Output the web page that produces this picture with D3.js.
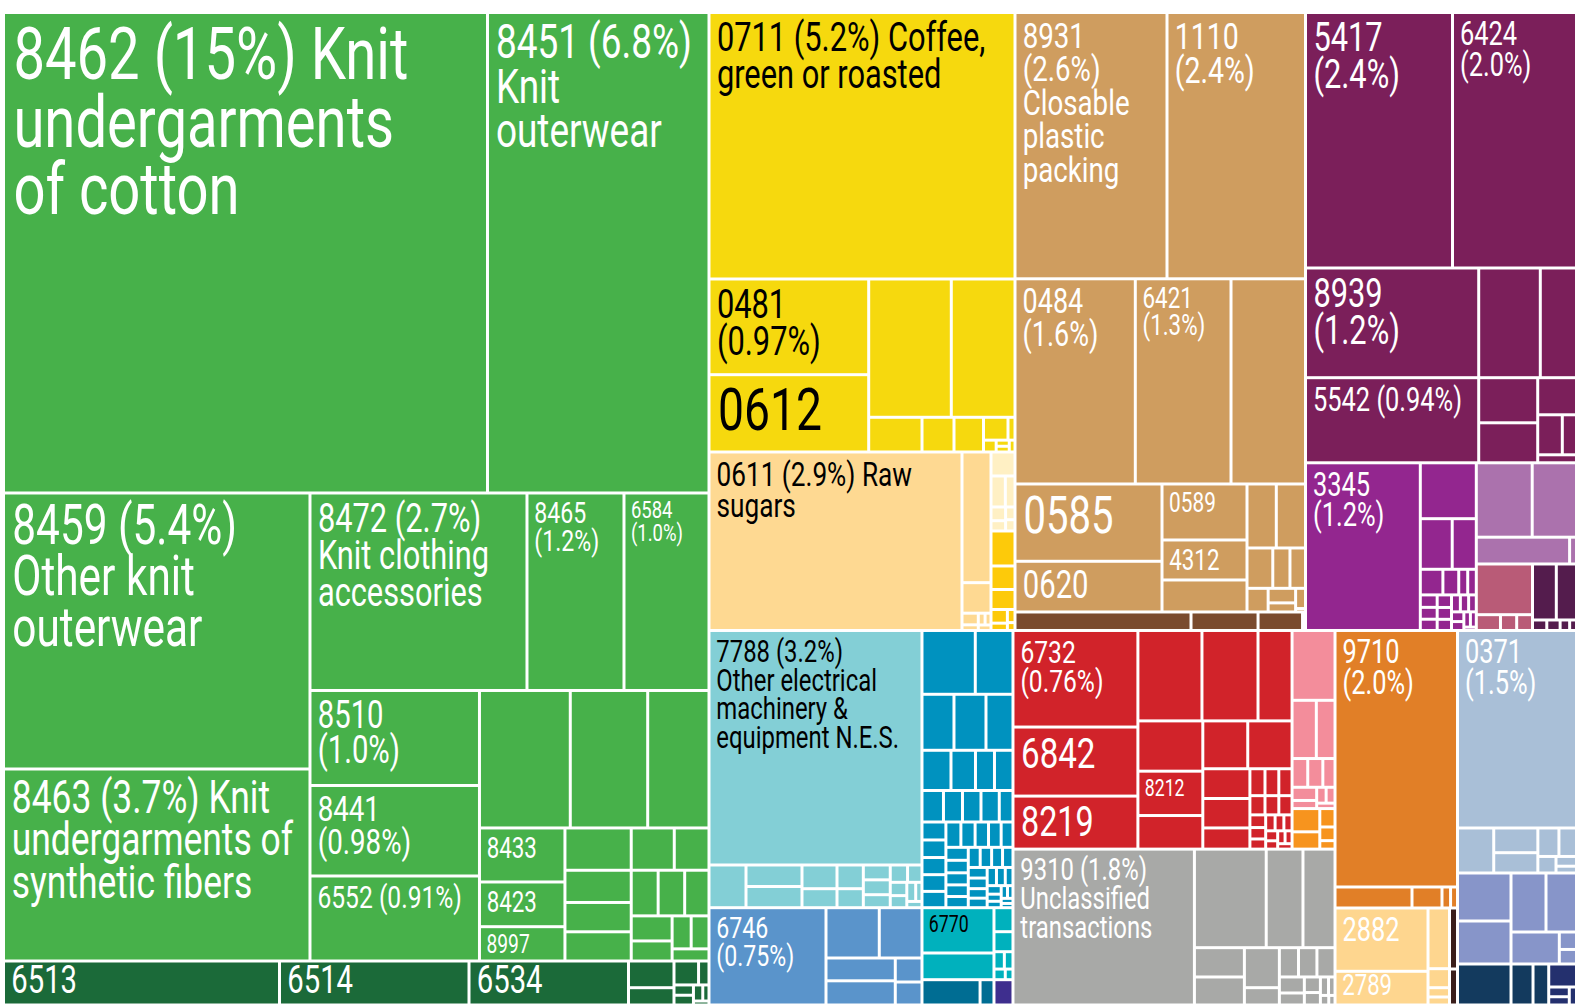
<!DOCTYPE html>
<html><head><meta charset="utf-8">
<script src="https://cdn.jsdelivr.net/npm/d3@7"></script>
<style>
body{margin:0;background:#fff;}
svg{display:block;}
text{font-family:Roboto,"Liberation Sans",sans-serif;font-weight:400;}
</style>
</head><body>
<svg id="chart" width="1575" height="1004"></svg>
<script>
// ---- Export values (proportional units), grouped by product community ----
const garments = [["8462",232562],["8451",106431],["8459",84594],["8463",58848],["8472",42858],["8465",19158],["6584",16788],["8510",16103],["8441",15340],["6552",14408],["",12485],["",10643],["",8429],["8433",4617],["8423",3822],["8997",2933],["",2804],["",2135],["",1943],["",1936],["",1819],["",1468],["",1229],["",1211],["",1110],["",1025],["",820],["",629],["",588],["",448]];
const textileYarn = [["6513",12144],["6514",8338],["6534",7018],["",1215],["",787],["",588],["",250],["",200],["",190],["",150],["",100],["",62]];
const coffeeTea = [["0711",81549],["0481",15283],["0612",12345],["",11424],["",8810],["",1850],["",1110],["",1024],["",560],["",160],["",150],["",80],["",75],["",68]];
const sugar = [["0611",45160],["",3790],["",885],["",190],["",92],["",80],["",70],["",70]];
const cream = [["",576],["",444],["",300],["",200],["",150],["",120],["",106]];
const goldG = [["",840],["",564],["",480],["",224],["",120],["",100],["",60]];
const foodstuffs = [["8931",40478],["1110",36883],["0484",24686],["6421",19638],["",15287],["0585",11363],["0620",7453],["0589",4760],["4312",3400],["",2720],["",1875],["",1869],["",1040],["",693],["",627],["",500],["",400],["",250],["",200],["",34]];
const brownG = [["",3256],["",1240],["",823],["",30],["",25]];
const pharma = [["5417",37559],["6424",31682],["8939",19000],["5542",14739],["",6757],["",3971],["",2661],["",2360],["",1439],["",984],["",568],["",310]];
const purpleG = [["3345",19252],["",3130],["",1614],["",1219],["",579],["",406],["",230],["",220],["",210],["",200],["",190],["",180],["",170],["",160],["",150],["",140],["",130],["",120],["",110],["",100],["",90],["",42]];
const lightPurple = [["",4159],["",3296],["",2500],["",185]];
const mauve = [["",2849],["",382],["",256],["",250]];
const darkPurple = [["",1333],["",1131],["",150],["",140],["",100],["",72]];
const electrical = [["7788",49949],["",1580],["",1204],["",1187],["",830],["",665],["",624],["",500],["",400],["",400],["",350],["",300],["",250],["",220],["",200],["",170],["",120],["",95]];
const machinery = [["",3401],["",2405],["",1792],["",1792],["",1512],["",1166],["",985],["",764],["",744],["",677],["",599],["",583],["",576],["",432],["",430],["",420],["",410],["",400],["",390],["",380],["",360],["",340],["",320],["",300],["",290],["",280],["",270],["",260],["",250],["",240],["",230],["",220],["",210],["",200],["",200],["",180],["",180],["",169],["",160],["",140],["",120],["",100],["",90],["",80],["",70],["",60],["",50]];
const steel = [["6746",11384],["",2681],["",2148],["",1580],["",1677],["",641],["",614]];
const tealG = [["6770",3262],["",1922],["",456],["",380],["",180],["",150],["",120],["",82]];
const darkTeal = [["",1470],["",352]];
const indigo = [["",481]];
const metals = [["6732",12063],["6842",8625],["8219",6625],["",5792],["",5068],["",3077],["",3264],["8212",2880],["",2180],["",2150],["",2120],["",1401],["",1387],["",997],["",406],["",372],["",356],["",290],["",266],["",254],["",200],["",180],["",160],["",150],["",140],["",130],["",120],["",100],["",95],["",90],["",78]];
const pink = [["",3001],["",1414],["",1088],["",451],["",434],["",350],["",325],["",200],["",150],["",141],["",100]];
const orangeS = [["",645],["",480],["",280],["",208],["",129]];
const grey = [["9310",28283],["",7077],["",3622],["",3158],["",1465],["",1400],["",1400],["",606],["",560],["",540],["",530],["",400],["",300],["",250],["",200],["",150],["",120],["",80],["",60]];
const goldOrange = [["9710",31421],["",1617],["",630],["",180],["",146]];
const peach2 = [["2882",5887],["2789",3134],["",1305],["",409],["",200],["",172]];
const darkBrown = [["",488],["",288]];
const lightBlue = [["0371",23503],["",1630],["",1090],["",896],["",600],["",500],["",300],["",200],["",139]];
const periwinkle = [["",2568],["",2300],["",2065],["",1800],["",1546],["",300],["",250]];
const navy = [["",2194],["",902],["",644]];
const navy2 = [["",639],["",200],["",170],["",130]];

// sections -> communities
const sections = [
  ["Textiles", ["garments","textileYarn"]],
  ["Vegetable products", ["coffeeTea","sugar","cream","goldG"]],
  ["Foodstuffs", ["foodstuffs","brownG"]],
  ["Chemicals & paper", ["pharma","purpleG","lightPurple","mauve","darkPurple"]],
  ["Machines", ["electrical","machinery","steel","tealG","darkTeal","indigo"]],
  ["Metals", ["metals","pink","orangeS"]],
  ["Unclassified", ["grey"]],
  ["Precious metals", ["goldOrange","peach2","darkBrown"]],
  ["Other", ["lightBlue","periwinkle","navy","navy2"]]
];

// label texts ('|' = line break)
const labelText = [
  ["8462","8462 (15%) Knit|undergarments|of cotton"],
  ["8451","8451 (6.8%)|Knit|outerwear"],
  ["8459","8459 (5.4%)|Other knit|outerwear"],
  ["8463","8463 (3.7%) Knit|undergarments of|synthetic fibers"],
  ["8472","8472 (2.7%)|Knit clothing|accessories"],
  ["8465","8465|(1.2%)"],["6584","6584|(1.0%)"],
  ["8510","8510|(1.0%)"],["8441","8441|(0.98%)"],["6552","6552 (0.91%)"],
  ["8433","8433"],["8423","8423"],["8997","8997"],
  ["6513","6513"],["6514","6514"],["6534","6534"],
  ["0711","0711 (5.2%) Coffee,|green or roasted"],
  ["0481","0481|(0.97%)"],["0612","0612"],
  ["0611","0611 (2.9%) Raw|sugars"],
  ["8931","8931|(2.6%)|Closable|plastic|packing"],["1110","1110|(2.4%)"],
  ["0484","0484|(1.6%)"],["6421","6421|(1.3%)"],
  ["0585","0585"],["0620","0620"],["0589","0589"],["4312","4312"],
  ["5417","5417|(2.4%)"],["6424","6424|(2.0%)"],["8939","8939|(1.2%)"],
  ["5542","5542 (0.94%)"],["3345","3345|(1.2%)"],
  ["7788","7788 (3.2%)|Other electrical|machinery &|equipment N.E.S."],
  ["6746","6746|(0.75%)"],["6770","6770"],
  ["6732","6732|(0.76%)"],["6842","6842"],["8219","8219"],["8212","8212"],
  ["9310","9310 (1.8%)|Unclassified|transactions"],
  ["9710","9710|(2.0%)"],["0371","0371|(1.5%)"],
  ["2882","2882"],["2789","2789"]
];

// ---- styles ----
const colors = {
  garments:"#47b14a", textileYarn:"#1b6a39",
  coffeeTea:"#f6d90e", sugar:"#fed992", cream:"#fff0c4", goldG:"#fdca0a",
  foodstuffs:"#cf9d5f", brownG:"#7a4b2e",
  pharma:"#7b1f5a", purpleG:"#93268f", lightPurple:"#ab72ad", mauve:"#b95b77", darkPurple:"#541c4d",
  electrical:"#83cfd6", machinery:"#0092bf", steel:"#5a94cb", tealG:"#00b1bd", darkTeal:"#006d93", indigo:"#3e2e8e",
  metals:"#d1232a", pink:"#f38d9b", orangeS:"#f7941e",
  grey:"#a8a9a7",
  goldOrange:"#e17f27", peach2:"#fed68f", darkBrown:"#3a1e1b",
  lightBlue:"#a9bfd7", periwinkle:"#8795c9", navy:"#133a5e", navy2:"#24306e"
};
const darkText = new Set(["coffeeTea","sugar","electrical","tealG"]);
const fontSize = {
  "8462":73,"8451":48,"0711":40,"8459":55,"8463":46,"8472":40,"8465":30,"6584":24,"8510":38,"8441":36,"6552":32,
  "8433":29,"8423":29,"8997":25,"6513":38,"6514":38,"6534":38,"8931":36,"1110":37,"0481":40,"0612":60,"0611":34,
  "0484":35,"6421":29,"0585":52,"0620":38,"0589":27,"4312":29,"5417":40,"6424":33,"8939":40,"5542":33,"3345":33,
  "7788":31,"6746":30,"6770":23,"6732":32,"6842":43,"8219":42,"8212":23,"9310":31,"9710":33,"0371":33,"2882":33,"2789":33
};

const groupData = {garments,textileYarn,coffeeTea,sugar,cream,goldG,foodstuffs,brownG,pharma,purpleG,lightPurple,mauve,darkPurple,
  electrical,machinery,steel,tealG,darkTeal,indigo,metals,pink,orangeS,grey,goldOrange,peach2,darkBrown,lightBlue,periwinkle,navy,navy2};

const rootData = {name:"root", children: sections.map(([s, groups]) => ({
  name:s, children: groups.map(g => ({name:g, children: groupData[g].map(([code, value]) => ({code, value, group:g}))}))
}))};

const X0 = 3.5, Y0 = 12.5, W = 1573, H = 992.5, GAP = 3, SX = 0.77;
const PAGE_H = 1004;
const ASC = 0.711, DESC = 0.25, LH = 0.93;
const svg = d3.select("#chart");
const root = d3.hierarchy(rootData).sum(d => d.value || 0);
d3.treemap().tile(d3.treemapSquarify).size([W, H]).round(false)(root);

const g = svg.append("g").attr("transform", `translate(${X0},${Y0})`);
const leaves = root.leaves();
g.selectAll("rect").data(leaves).join("rect")
  .attr("x", d => d.x0 + GAP/2).attr("y", d => d.y0 + GAP/2)
  .attr("width", d => Math.max(0, d.x1 - d.x0 - GAP))
  .attr("height", d => Math.max(0, d.y1 - d.y0 - GAP))
  .attr("fill", d => colors[d.data.group]);

const labelMap = new Map(labelText);
const labelled = leaves.filter(d => d.data.code && labelMap.has(d.data.code)).map(d => {
  const lines = labelMap.get(d.data.code).split("|");
  let F = fontSize[d.data.code];
  const n = lines.length;
  const innerTop = d.y0 + GAP/2;
  const limit = Math.min(d.y1 - GAP/2, PAGE_H - Y0 - 1.5);
  let top = innerTop + 4 + 0.12*F;
  const need = f => ASC*f + (n-1)*LH*f + DESC*f;
  if (top + need(F) > limit) {
    top = Math.max(innerTop + 2, limit - need(F));
    if (top + need(F) > limit) F = (limit - top) / (ASC + (n-1)*LH + DESC);
  }
  return {d, lines, F, top};
});
const lg = g.selectAll("g.lab").data(labelled).join("g").attr("class","lab")
  .attr("transform", o => `translate(${o.d.x0 + GAP/2 + 4 + 0.06*o.F},${o.top}) scale(${SX},1)`);
lg.append("text")
  .attr("font-size", o => o.F.toFixed(1))
  .attr("fill", o => darkText.has(o.d.data.group) ? "#000" : "#fff")
  .each(function(o){
    d3.select(this).selectAll("tspan").data(o.lines).join("tspan")
      .attr("x", 0).attr("y", (l, i) => ASC*o.F + i*LH*o.F).text(l => l);
  });
</script>
</body></html>
